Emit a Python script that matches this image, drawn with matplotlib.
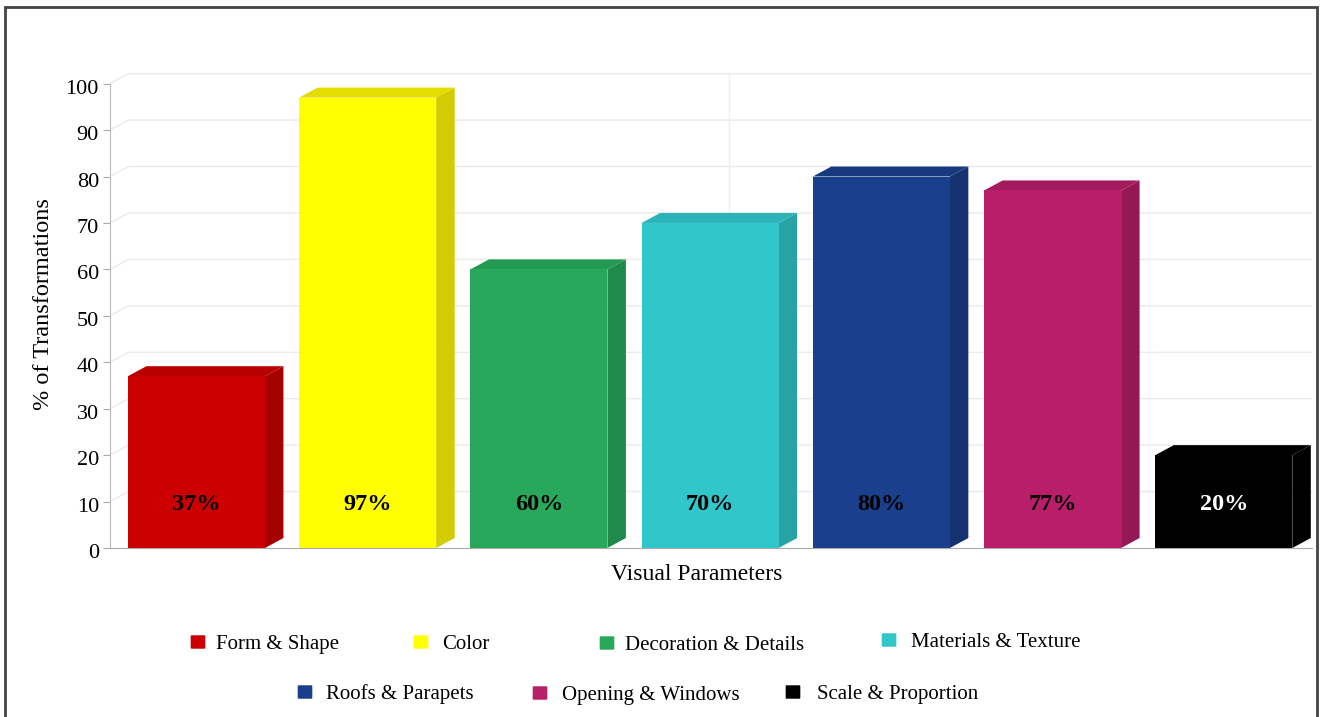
import matplotlib
matplotlib.use('Agg')
import matplotlib.pyplot as plt
import matplotlib.transforms as mtransforms
from matplotlib.patches import Polygon, Rectangle, FancyBboxPatch

plt.rcParams['font.family'] = ['Liberation Serif', 'DejaVu Serif']

# data
categories = ['Form & Shape', 'Color', 'Decoration & Details', 'Materials & Texture',
              'Roofs & Parapets', 'Opening & Windows', 'Scale & Proportion']
values = [37, 97, 60, 70, 80, 77, 20]
labels = ['37%', '97%', '60%', '70%', '80%', '77%', '20%']
front_colors = ['#CC0000', '#FFFF00', '#27A85A', '#30C6CA', '#1A3F8C', '#B81E6A', '#000000']
side_colors = ['#A60000', '#D2CC00', '#1F8A4A', '#27A3A7', '#143270', '#931853', '#000000']
top_colors = ['#B80000', '#E4DE00', '#239A52', '#2BB4B8', '#17397E', '#A31B5E', '#000000']
label_colors = ['black'] * 6 + ['white']

# 3d look
w = 0.80
dx = 0.108
dy = 2.15

fig = plt.figure(figsize=(13.2, 7.17), dpi=100)
ax = fig.add_axes([110 / 1320, 1 - 548 / 717, (1312 - 110) / 1320, (548 - 69.7) / 717])
xl, xr = -0.505, 6.515
ax.set_xlim(xl, xr)
ax.set_ylim(0, 103)

# back wall grid
for v in range(10, 101, 10):
    ax.plot([xl, xl + dx, xr], [v, v + dy, v + dy], color='#EAEAEA', lw=1, zorder=0)
ax.plot([3 + dx, 3 + dx], [dy, 100 + dy], color='#EEEEEE', lw=1, zorder=0)

for i, v in enumerate(values):
    x0 = i - w / 2
    x1 = i + w / 2
    ax.add_patch(Polygon([[x1, 0], [x1 + dx, dy], [x1 + dx, v + dy], [x1, v]],
                         closed=True, facecolor=side_colors[i], edgecolor='none', zorder=2))
    ax.add_patch(Polygon([[x0, v], [x0 + dx, v + dy], [x1 + dx, v + dy], [x1, v]],
                         closed=True, facecolor=top_colors[i], edgecolor='none', zorder=2))
    ax.add_patch(Rectangle((x0, 0), w, v, facecolor=front_colors[i], edgecolor='none', zorder=3))
    ax.text(i, 10, labels[i], ha='center', va='center_baseline', fontsize=17.5,
            fontweight='bold', color=label_colors[i], zorder=4)

ax.set_xticks([])
ax.set_yticks(range(0, 101, 10))
ax.tick_params(axis='y', length=5, color='#AAAAAA', labelsize=16, pad=3)
shift = mtransforms.ScaledTranslation(0, -3 / 100, fig.dpi_scale_trans)
for lab in ax.get_yticklabels():
    lab.set_transform(lab.get_transform() + shift)
for s in ['top', 'right']:
    ax.spines[s].set_visible(False)
ax.spines['left'].set_bounds(0, 100)
ax.spines['left'].set_color('#BBBBBB')
ax.spines['bottom'].set_color('#AAAAAA')

fig.text(44 / 1320, 1 - 304 / 717, '% of Transformations', rotation=90,
         ha='center', va='center', fontsize=17.5)
fig.text(697 / 1320, 1 - 575 / 717, 'Visual Parameters', ha='center', va='center', fontsize=17)

# legend, placed by hand in two rows
legend_pos = [(198, 642), (421, 642), (607, 643), (889, 640),
              (305, 692), (540, 693), (793, 692)]
text_x = [216, 442, 625, 911, 326, 562, 817]
for (px, py), tx, name, c in zip(legend_pos, text_x, categories, front_colors):
    fy = 1 - py / 717
    sq = FancyBboxPatch(((px - 6) / 1320, fy - 6 / 717), 12 / 1320, 12 / 717,
                        boxstyle='round,pad=0.001', transform=fig.transFigure,
                        facecolor=c, edgecolor='none')
    fig.add_artist(sq)
    fig.text(tx / 1320, fy - 2.5 / 717, name, ha='left', va='center', fontsize=15)

# frame round the figure
fig.add_artist(Rectangle((4.5 / 1320, -0.01), 1312 / 1320, 1 - 7 / 717 + 0.01,
                         transform=fig.transFigure, fill=False, edgecolor='#444444', lw=2))

fig.savefig('out.png', dpi=100)
